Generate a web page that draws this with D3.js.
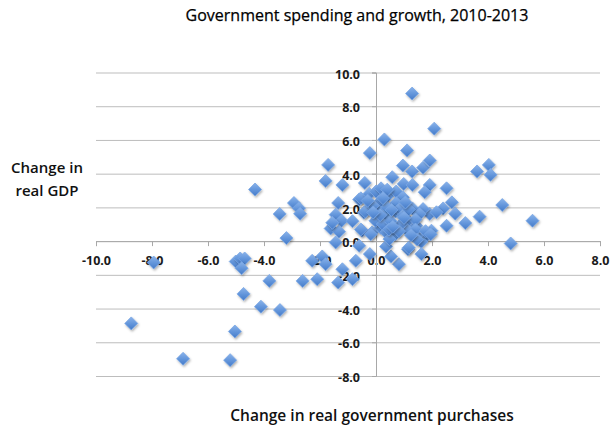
<!DOCTYPE html>
<html>
<head>
<meta charset="utf-8">
<script src="https://cdn.jsdelivr.net/npm/d3@7"></script>
<style>
  html, body { margin: 0; padding: 0; background: #fff; }
  svg { display: block; }
</style>
</head>
<body>
<svg id="chart" width="614" height="428"></svg>
<script>
// ---- data ----
const title = "Government spending and growth, 2010-2013";
const xTitle = "Change in real government purchases";
const yTitleLines = ["Change in", "real GDP"];
const xTicks = [-10, -8, -6, -4, -2, 0, 2, 4, 6, 8];
const yTicks = [-8, -6, -4, -2, 0, 2, 4, 6, 8, 10];

// change in real government purchases (x) for each point
const govX = [
  -8.74, -7.94, -6.89, -5.21, -5.04, -5.01, -4.85, -4.69, -4.80, -4.73,
  -4.11, -3.81, -3.43, -4.32, -3.44, -3.20, -2.93, -2.75, -2.71, -2.62,
  -2.28, -2.10, -1.92, -1.80, -1.35, -1.20, -0.84, -0.72,
  -1.71, -1.80, -1.20, -1.35, -1.44, -1.23, -1.62, -1.32, -1.44, -1.56,
  -0.84, -0.43, -0.60, -0.60, -0.50, -0.22, -0.22, 0.30, -0.40, -0.54,
  -0.38, -0.24, -0.14, -0.54, -0.19, 0.17,
  1.29, 2.08, 1.11, 0.96, 1.29, 1.68, 1.92, 0.58, 0.99, 1.30,
  1.92, 1.74, 2.52, 2.71, 2.40, 2.83, 2.52, 3.19, 3.61, 4.03,
  4.09, 3.70, 4.51, 5.59, 4.81, 1.92, 1.68, 1.98, 1.80, 1.62,
  1.62, 1.14, 0.82, 0.54, 0.36, 1.30, 1.14, 1.44, 1.14, 1.44,
  0.70, 0.36, 0.12, 0.00, 0.18, 0.42, 0.72, 0.96, 0.72, -0.02,
  0.24, 0.36, 0.70, 0.48, 0.90, 1.56, 2.16, 0.18, -0.12, -0.30,
  0.84, 0.96, 0.40, 0.40, 1.17, 1.41, 1.00, 0.52, 0.46, 0.82,
  1.41, 1.77, 1.95, 1.17, 1.47, 0.25, 0.55, 0.15, 1.05, 1.25,
  -0.10, 0.60
];
// change in real GDP (y) for each point
const gdpY = [
  -4.88, -1.27, -6.98, -7.06, -5.36, -1.21, -1.03, -1.03, -1.61, -3.13,
  -3.89, -2.36, -4.09, 3.06, 1.61, 0.18, 2.26, 1.95, 1.62, -2.36,
  -1.17, -2.26, -0.91, -1.37, -2.46, -1.67, -2.26, -1.17,
  4.52, 3.57, 3.33, 2.26, 1.57, 1.21, 0.75, 0.56, -0.08, 1.09,
  1.18, 1.68, 2.47, -0.28, 0.62, -0.77, 5.22, 6.03, 3.45, 2.54,
  1.75, 2.80, 0.52, 0.69, 0.40, 0.79,
  8.75, 6.67, 5.38, 4.48, 4.13, 4.35, 4.78, 3.79, 3.39, 3.33,
  3.33, 2.90, 3.13, 2.30, 1.94, 1.63, 0.91, 1.07, 4.13, 4.52,
  3.93, 1.45, 2.14, 1.21, -0.14, 1.61, 1.90, 0.62, 0.32, -0.04,
  -0.77, -0.48, -1.37, -0.91, -0.32, 1.94, 1.21, 0.91, 0.62, 0.32,
  1.75, 1.51, 2.00, 2.94, 3.13, 2.70, 2.94, 2.60, 2.26, 1.21,
  1.01, 0.52, 0.42, 0.12, 1.01, 1.61, 1.71, 2.40, 2.10, 2.40,
  1.90, 1.51, 3.05, 1.98, 1.88, 1.28, 1.38, 1.18, 0.69, 0.59,
  0.69, 0.59, 0.40, -0.39, 0.10, 2.55, 1.85, 1.55, 2.30, 0.35,
  1.70, 0.85
];

const points = govX.map((v, i) => ({ x: v, y: gdpY[i] }));

// ---- chart ----
const svg = d3.select("#chart");
const font = "'Open Sans', 'DejaVu Sans', sans-serif";

const x = d3.scaleLinear().domain([-10, 8]).range([96, 600]);
const y = d3.scaleLinear().domain([-8, 10]).range([376, 72.5]);
const fmt = d => d.toFixed(1);

// defs: gradient + shadow for diamonds
const defs = svg.append("defs");
const grad = defs.append("linearGradient").attr("id", "dg")
  .attr("x1", "0").attr("y1", "0").attr("x2", "0").attr("y2", "1");
grad.append("stop").attr("offset", "0%").attr("stop-color", "#8ab3ea");
grad.append("stop").attr("offset", "55%").attr("stop-color", "#6194da");
grad.append("stop").attr("offset", "100%").attr("stop-color", "#457bc8");
const sh = defs.append("filter").attr("id", "sh")
  .attr("x", "-50%").attr("y", "-50%").attr("width", "200%").attr("height", "200%");
sh.append("feDropShadow").attr("dx", 1).attr("dy", 1.5).attr("stdDeviation", 1)
  .attr("flood-color", "#000").attr("flood-opacity", 0.3);

// gridlines
const grid = svg.append("g").attr("transform", `translate(${x(-10)},0)`)
  .call(d3.axisLeft(y).tickValues(yTicks).tickSize(-(x(8) - x(-10))).tickFormat(""));
grid.select(".domain").remove();
grid.selectAll("line").attr("stroke", "#bdbdbd").attr("stroke-width", 1);

// x axis at y = 0
const xa = svg.append("g").attr("transform", `translate(0,${y(0)})`)
  .call(d3.axisBottom(x).tickValues(xTicks).tickSize(5).tickPadding(10).tickFormat(fmt));
xa.select(".domain").attr("stroke", "#a8a8a8");
xa.selectAll("line").attr("stroke", "#a8a8a8");
xa.selectAll("text").attr("font-family", font).attr("font-size", "12.5px")
  .attr("font-weight", 700).attr("fill", "#1a1a1a");

// y axis at x = 0
const ya = svg.append("g").attr("transform", `translate(${x(0)},0)`)
  .call(d3.axisLeft(y).tickValues(yTicks).tickSize(4).tickPadding(12).tickFormat(fmt));
ya.select(".domain").attr("stroke", "#a8a8a8");
ya.selectAll("line").attr("stroke", "#a8a8a8");
ya.selectAll("text").attr("font-family", font).attr("font-size", "12.5px")
  .attr("font-weight", 700).attr("fill", "#1a1a1a").attr("dy", "0.45em");

// points (diamonds)
const r = 6.5;
const diamond = `M0,${-r}L${r},0L0,${r}L${-r},0Z`;
svg.append("g").selectAll("path").data(points).join("path")
  .attr("d", diamond)
  .attr("transform", d => `translate(${x(d.x)},${y(d.y)})`)
  .attr("fill", "url(#dg)")
  .attr("stroke", "#78a6e4")
  .attr("stroke-width", 0.8)
  .attr("filter", "url(#sh)");

// title
svg.append("text").attr("x", 357).attr("y", 21).attr("text-anchor", "middle")
  .attr("font-family", font).attr("font-size", "16px").attr("fill", "#000")
  .attr("stroke", "#000").attr("stroke-width", 0.25)
  .text(title);

// y title
svg.append("g").selectAll("text").data(yTitleLines).join("text")
  .attr("x", 47).attr("y", (d, i) => 173 + i * 23).attr("text-anchor", "middle")
  .attr("font-family", font).attr("font-size", "15px").attr("font-weight", 600)
  .attr("fill", "#111").text(d => d);

// x title
svg.append("text").attr("x", 372).attr("y", 421).attr("text-anchor", "middle")
  .attr("font-family", font).attr("font-size", "15.5px").attr("font-weight", 600)
  .attr("fill", "#111").text(xTitle);
</script>
</body>
</html>
